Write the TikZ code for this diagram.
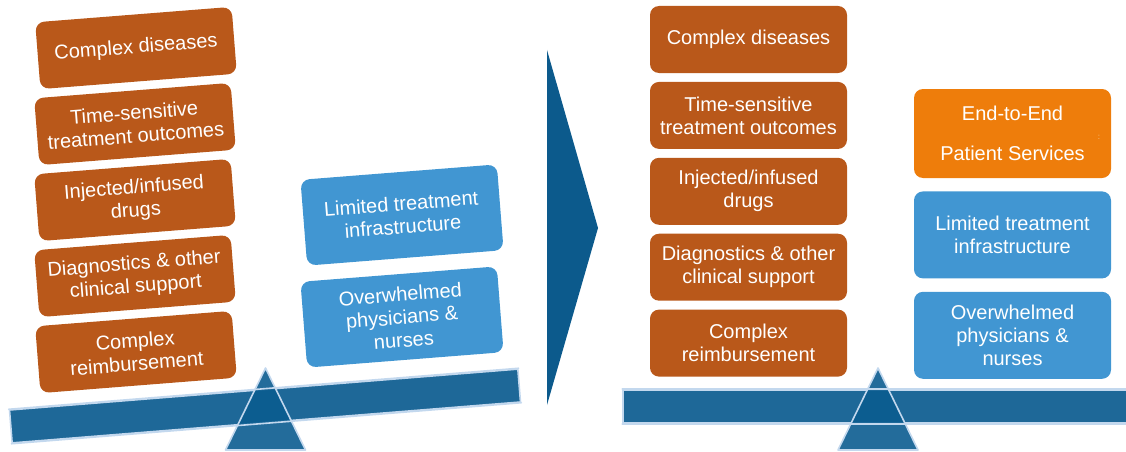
\documentclass[tikz,border=0pt]{standalone}
\usepackage{fontspec}
\setmainfont{Liberation Sans}
\usetikzlibrary{positioning}

\definecolor{rust}{HTML}{B9581A}
\definecolor{sky}{HTML}{4196D2}
\definecolor{amber}{HTML}{EE7D0B}
\definecolor{steel}{HTML}{1E6898}
\definecolor{pivotblue}{HTML}{0B5C90}
\definecolor{rim}{HTML}{C3D8EE}
\definecolor{navy}{HTML}{0C5A8C}

\begin{document}
\begin{tikzpicture}[
  x=1pt,y=-1pt,
  line cap=round,line join=round
]
  \tikzset{
    load/.style={rounded corners=9pt, text=white, align=center,
      minimum width=197pt, inner sep=2pt,
      font=\fontsize{20}{23}\selectfont},
    need/.style={load, fill=rust, minimum height=67pt},
    gap/.style={load, fill=sky, minimum height=87pt},
    svc/.style={load, fill=amber, minimum height=89pt},
    bar/.style={draw=rim, line width=1.6pt, fill=steel, minimum height=33pt, inner sep=0pt},
    fulcrum/.style={draw=rim, line width=1.6pt, fill=pivotblue, fill opacity=0.9},
    barline/.style={draw=rim, line width=1.6pt}
  }

  \useasboundingbox (0,0) rectangle (1126,452);
  \clip (0,0) rectangle (1126,452);

  % Tilted scale
  \node[bar, rotate=4.6, minimum width=510pt] (barL) at (265,406) {};
  \draw[fulcrum] (265.5,368) -- (305.5,450) -- (225.5,450) -- cycle;
  \draw[barline] (barL.north west) -- (barL.north east)
                 (barL.south west) -- (barL.south east);

  \node[need, rotate=4.5] (cx1) at (136,48) {Complex diseases};
  \node[need, rotate=4.5] (cx2) at (135,124) {Time-sensitive\\treatment outcomes};
  \node[need, rotate=4.5] (cx3) at (135,200) {Injected/infused\\drugs};
  \node[need, rotate=4.5] (cx4) at (135,276) {Diagnostics \& other\\clinical support};
  \node[need, rotate=4.5] (cx5) at (136,352) {Complex\\reimbursement};

  \node[gap, rotate=4.5, minimum height=86pt] (lim1) at (402,215) {Limited treatment\\infrastructure};
  \node[gap, rotate=4.5, minimum height=86pt] (ovw1) at (402,317) {Overwhelmed\\physicians \&\\nurses};

  % Chevron
  \fill[navy] (547,50) -- (598,228) -- (547,405) -- cycle;

  % Balanced scale
  \node[bar, minimum width=517pt] (barR) at (881.5,406.5) {};
  \draw[fulcrum] (878,368) -- (918,450) -- (838,450) -- cycle;
  \draw[barline] (barR.north west) -- (barR.north east)
                 (barR.south west) -- (barR.south east);

  \node[need] (cx6) at (748.5,39.5) {Complex diseases};
  \node[need, below=8.5pt of cx6] (cx7) {Time-sensitive\\treatment outcomes};
  \node[need, below=8.5pt of cx7] (cx8) {Injected/infused\\drugs};
  \node[need, below=8.5pt of cx8] (cx9) {Diagnostics \& other\\clinical support};
  \node[need, below=8.5pt of cx9] (cx10) {Complex\\reimbursement};

  \node[svc, text depth=-2pt] (e2e) at (1012.5,133.5) {End-to-End\\[17pt]Patient Services};
  \node[font=\fontsize{8}{8}\selectfont, text=white!55!amber] (e2edot) at (1099,137) {:};
  \node[gap, below=13pt of e2e] (lim2) {Limited treatment\\infrastructure};
  \node[gap, below=13pt of lim2] (ovw2) {Overwhelmed\\physicians \&\\nurses};
\end{tikzpicture}
\end{document}
